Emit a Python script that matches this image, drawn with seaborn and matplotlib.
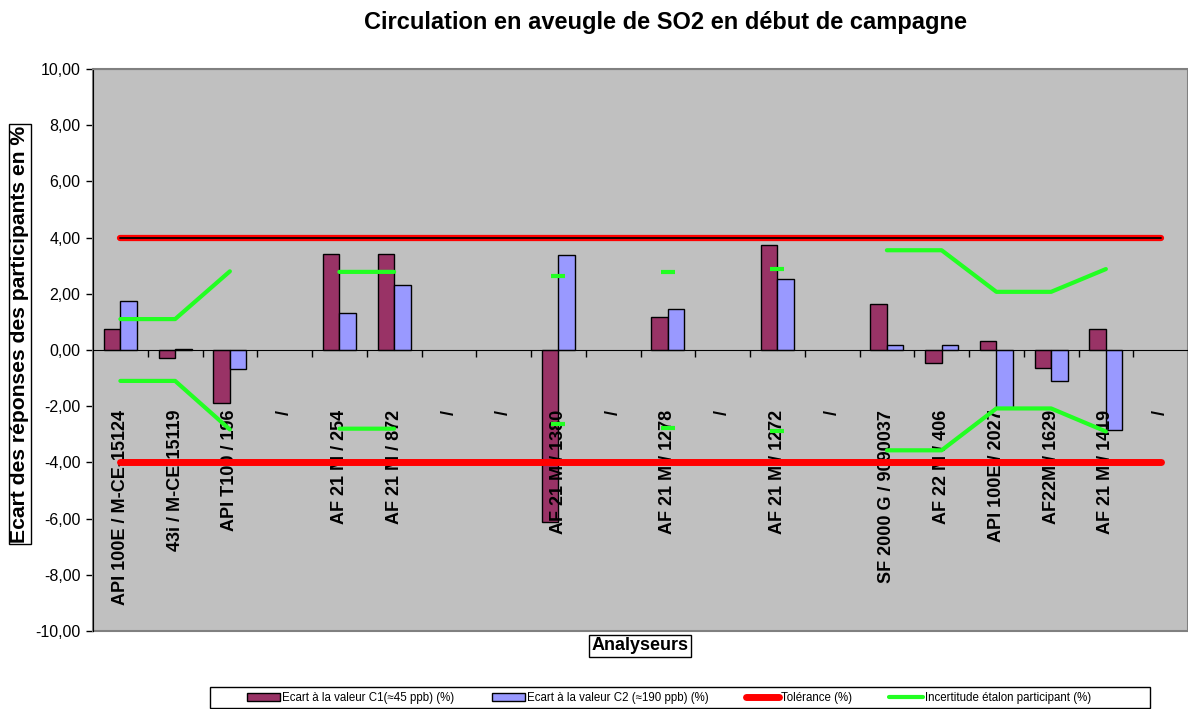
import numpy as np
import pandas as pd
import matplotlib
matplotlib.use("Agg")
import matplotlib.pyplot as plt
import seaborn as sns
from matplotlib.ticker import FuncFormatter, FixedLocator
from matplotlib.patches import Rectangle

nan = np.nan

analyseurs = ["API 100E / M-CE-15124", "43i / M-CE-15119", "API T100 / 196", "/",
              "AF 21 M / 254", "AF 21 M / 872", "/", "/", "AF 21 M / 1380", "/",
              "AF 21 M / 1278", "/", "AF 21 M / 1272", "/", "SF 2000 G / 9090037",
              "AF 22 M / 406", "API 100E / 2027", "AF22M / 1629", "AF 21 M / 1419", "/"]

ecart_c1 = [0.75, -0.28, -1.90, nan, 3.42, 3.42, nan, nan, -6.13, nan,
            1.19, nan, 3.73, nan, 1.64, -0.48, 0.33, -0.65, 0.75, nan]
ecart_c2 = [1.75, 0.05, -0.68, nan, 1.33, 2.32, nan, nan, 3.37, nan,
            1.46, nan, 2.54, nan, 0.19, 0.19, -2.08, -1.11, -2.86, nan]

tol_haut = [4.00, 4.00, 4.00, 4.00, 4.00, 4.00, 4.00, 4.00, 4.00, 4.00,
            4.00, 4.00, 4.00, 4.00, 4.00, 4.00, 4.00, 4.00, 4.00, 4.00]
tol_bas = [-4.00, -4.00, -4.00, -4.00, -4.00, -4.00, -4.00, -4.00, -4.00, -4.00,
           -4.00, -4.00, -4.00, -4.00, -4.00, -4.00, -4.00, -4.00, -4.00, -4.00]

incert_haut = [1.10, 1.10, 2.80, nan, 2.78, 2.78, nan, nan, 2.65, nan,
               2.78, nan, 2.88, nan, 3.55, 3.55, 2.07, 2.07, 2.88, nan]
incert_bas = [-1.10, -1.10, -2.83, nan, -2.80, -2.80, nan, nan, -2.65, nan,
              -2.78, nan, -2.88, nan, -3.57, -3.57, -2.08, -2.08, -2.90, nan]

lab_c1 = "Ecart à la valeur C1(≈45 ppb) (%)"
lab_c2 = "Ecart à la valeur C2 (≈190 ppb) (%)"

sns.set_style("white")
plt.rcParams["font.family"] = ["Liberation Sans", "DejaVu Sans"]
plt.rcParams["text.color"] = "black"
plt.rcParams["axes.labelcolor"] = "black"
plt.rcParams["xtick.color"] = "black"
plt.rcParams["ytick.color"] = "black"

idx = list(range(len(analyseurs)))
df = pd.DataFrame({"idx": idx * 2,
                   "val": ecart_c1 + ecart_c2,
                   "serie": [lab_c1] * len(idx) + [lab_c2] * len(idx)})

fig = plt.figure(figsize=(11.88, 7.09), dpi=100)
ax = fig.add_axes([93 / 1188, (709 - 631) / 709, 1095 / 1188, 562 / 709])
ax.set_facecolor("#c0c0c0")

sns.barplot(data=df, x="idx", y="val", hue="serie", order=idx,
            hue_order=[lab_c1, lab_c2], palette=["#993366", "#9999ff"],
            saturation=1, width=0.6, edgecolor="black", linewidth=1,
            errorbar=None, ax=ax)

x = np.array(idx)
# tolérance
ax.plot(x, tol_haut, color="red", lw=4.5, solid_capstyle="round", zorder=3)
ax.plot(x, tol_haut, color="black", lw=1.3, zorder=3.1)
ax.plot(x, tol_bas, color="red", lw=5, zorder=3, label="Tolérance (%)")

# incertitude étalon
green = "#22ff22"
for serie, lab in [(incert_haut, "Incertitude étalon participant (%)"), (incert_bas, None)]:
    s = np.array(serie)
    ax.plot(x, s, color=green, lw=3, zorder=3, label=lab)
    prev = np.r_[nan, s[:-1]]
    nxt = np.r_[s[1:], nan]
    iso = ~np.isnan(s) & np.isnan(prev) & np.isnan(nxt)
    ax.plot(x[iso], s[iso], ls="none", marker="_", ms=10, mew=3, color=green, zorder=3)

ax.set_xlim(-0.5, len(idx) - 0.5)
ax.set_ylim(-10, 10)
ax.yaxis.set_major_locator(FixedLocator(np.arange(-10, 11, 2)))
ax.yaxis.set_major_formatter(FuncFormatter(lambda v, p: f"{v:.2f}".replace(".", ",")))
ax.tick_params(axis="y", direction="out", length=5, width=1, color="black",
               labelsize=11.5, left=True, pad=4)

ax.spines["bottom"].set_position(("data", 0))
ax.spines["bottom"].set_color("black")
ax.spines["left"].set_color("black")
ax.spines["top"].set_color("#808080")
ax.spines["right"].set_color("#808080")
ax.add_patch(Rectangle((0, 0), 1, 1, transform=ax.transAxes, fill=False,
                       ec="#808080", lw=1.5, zorder=0.8, clip_on=False))

ax.set_xticks(idx)
ax.set_xticklabels(analyseurs, rotation=90, fontsize=13, fontweight="bold")
ax.tick_params(axis="x", which="major", length=0, pad=43)
ax.set_xticks(np.arange(0.5, len(idx) - 1, 1), minor=True)
ax.tick_params(axis="x", which="minor", direction="out", length=5, width=1,
               color="black", bottom=True)
ax.xaxis.set_zorder(1.5)

box = dict(boxstyle="square,pad=0.12", fc="white", ec="black", lw=1)
ax.set_xlabel("Analyseurs", fontsize=13, fontweight="bold", bbox=box)
ax.xaxis.set_label_coords((640 - 93) / 1095, (631 - 646) / 562)
ax.xaxis.label.set_va("center")
ax.set_ylabel("Ecart des réponses des participants en %", fontsize=15.2,
              fontweight="bold", bbox=dict(boxstyle="square,pad=0.06", fc="white",
                                           ec="black", lw=1))
ax.yaxis.set_label_coords((20 - 93) / 1095, (631 - 334) / 562)
ax.yaxis.label.set_va("center")

fig.text(666 / 1188, 1 - 22 / 709, "Circulation en aveugle de SO2 en début de campagne",
         ha="center", va="center", fontsize=17, fontweight="bold")

handles, labels = ax.get_legend_handles_labels()
ax.legend_.remove()
fig.legend(handles, labels, loc="center", ncol=4,
           bbox_to_anchor=(669 / 1188, 1 - 698 / 709), fontsize=8.3,
           frameon=False, handlelength=2.9, handletextpad=0.2,
           columnspacing=3.2, borderpad=0, borderaxespad=0)
fig.patches.append(Rectangle((210 / 1188, 1 / 709), 940 / 1188, 21 / 709,
                             transform=fig.transFigure, fill=False,
                             ec="black", lw=1))

fig.savefig("out.png", dpi=100)
